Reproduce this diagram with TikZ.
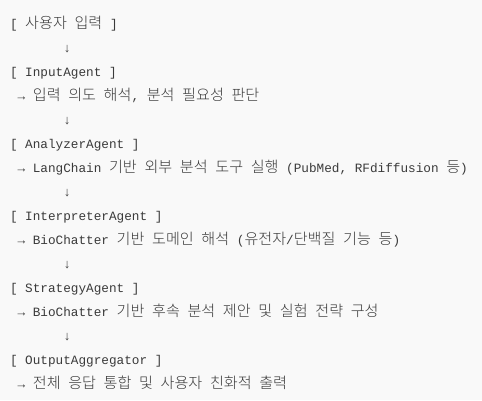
\documentclass[tikz,border=0pt]{standalone}
\usepackage{fontspec}
\setmonofont{Liberation Mono}
\newfontfamily\krfont[Scale=1.19]{Noto Sans CJK KR Light}
\newcommand\K[1]{{\krfont #1}}
\definecolor{pagebg}{HTML}{F9F9F9}
\definecolor{codetext}{HTML}{3A3A3A}
\tikzset{
  codeline/.style={anchor=base west, inner sep=0pt, outer sep=0pt,
    text=codetext, font=\ttfamily\fontsize{12.7}{24}\selectfont}
}
\begin{document}
\begin{tikzpicture}[x=1pt,y=1pt]
  \fill[pagebg] (0,0) rectangle (482,-400);
  \useasboundingbox (0,0) rectangle (482,-400);
  % pipeline listing, one node per line, 24pt leading
  \node[codeline] (n1)  at (10,-28)  {[~\K{사용자}~\K{입력}~]};
  \node[codeline] (n2)  at (10,-52)  {~~~~~~~↓};
  \node[codeline] (n3)  at (10,-76)  {[~InputAgent~]};
  \node[codeline] (n4)  at (10,-100) {~→~\K{입력}~\K{의도}~\K{해석},~\K{분석}~\K{필요성}~\K{판단}};
  \node[codeline] (n5)  at (10,-124) {~~~~~~~↓};
  \node[codeline] (n6)  at (10,-148) {[~AnalyzerAgent~]};
  \node[codeline] (n7)  at (10,-172) {~→~LangChain~\K{기반}~\K{외부}~\K{분석}~\K{도구}~\K{실행}~(PubMed,~RFdiffusion~\K{등})};
  \node[codeline] (n8)  at (10,-196) {~~~~~~~↓};
  \node[codeline] (n9)  at (10,-220) {[~InterpreterAgent~]};
  \node[codeline] (n10) at (10,-244) {~→~BioChatter~\K{기반}~\K{도메인}~\K{해석}~(\K{유전자}/\K{단백질}~\K{기능}~\K{등})};
  \node[codeline] (n11) at (10,-268) {~~~~~~~↓};
  \node[codeline] (n12) at (10,-292) {[~StrategyAgent~]};
  \node[codeline] (n13) at (10,-316) {~→~BioChatter~\K{기반}~\K{후속}~\K{분석}~\K{제안}~\K{및}~\K{실험}~\K{전략}~\K{구성}};
  \node[codeline] (n14) at (10,-340) {~~~~~~~↓};
  \node[codeline] (n15) at (10,-364) {[~OutputAggregator~]};
  \node[codeline] (n16) at (10,-388) {~→~\K{전체}~\K{응답}~\K{통합}~\K{및}~\K{사용자}~\K{친화적}~\K{출력}};
\end{tikzpicture}
\end{document}
